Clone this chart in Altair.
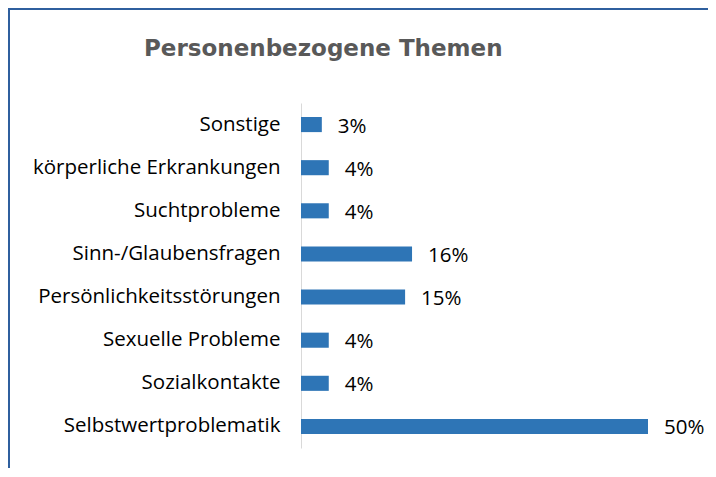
import altair as alt
import pandas as pd

title_text = "Personenbezogene Themen"
categories = [
    "Sonstige",
    "körperliche Erkrankungen",
    "Suchtprobleme",
    "Sinn-/Glaubensfragen",
    "Persönlichkeitsstörungen",
    "Sexuelle Probleme",
    "Sozialkontakte",
    "Selbstwertproblematik",
]
values = [3, 4, 4, 16, 15, 4, 4, 50]

df = pd.DataFrame({"thema": categories, "wert": values})
df["label"] = [f"{v}%" for v in values]

FONT = "Open Sans"

y_enc = alt.Y(
    "thema:N",
    sort=categories,
    title=None,
    scale=alt.Scale(paddingInner=0.65, paddingOuter=0.325),
    axis=alt.Axis(
        ticks=False,
        labelPadding=21,
        labelFont=FONT,
        labelFontSize=20.5,
        labelColor="#000000",
        labelLimit=400,
        domainColor="#D9D9D9",
        domainWidth=1,
    ),
)
x_enc = alt.X("wert:Q", axis=None, scale=alt.Scale(domain=[0, 50], nice=False))

bars = alt.Chart(df).mark_bar(color="#2E75B6").encode(x=x_enc, y=y_enc)

texts = alt.Chart(df).mark_text(
    align="left", baseline="middle", dx=16, dy=2,
    font=FONT, fontSize=20.5, color="#000000",
).encode(x=x_enc, y=y_enc, text="label:N")

frame = alt.Chart(alt.Data(values=[{"a": 1}])).mark_rect(
    fill="transparent", stroke="#2F5F9E", strokeWidth=2
).encode(
    x=alt.value(-292), x2=alt.value(1200),
    y=alt.value(-94), y2=alt.value(1200),
)

title = alt.Chart(alt.Data(values=[{"t": title_text}])).mark_text(
    align="left", baseline="alphabetic",
    font="DejaVu Sans", fontSize=23, fontWeight="bold", color="#595959",
).encode(x=alt.value(-157), y=alt.value(-47), text="t:N")

chart = alt.layer(frame, title, bars, texts).properties(
    width=347,
    height=345,
    autosize=alt.AutoSizeParams(type="none"),
    padding={"left": 293, "top": 95, "right": 60, "bottom": 20},
).configure_view(stroke=None)

chart.save("out.html", embed_options={"renderer": "svg", "actions": False})
